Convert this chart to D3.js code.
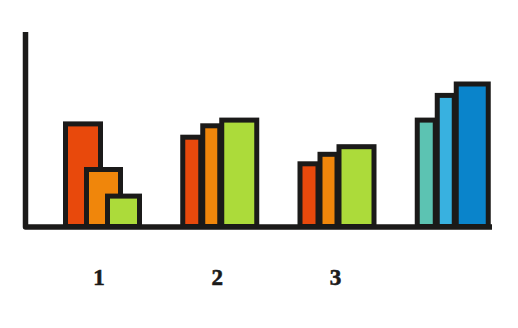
<!DOCTYPE html>
<html>
<head>
<meta charset="utf-8">
<script src="https://cdn.jsdelivr.net/npm/d3@7"></script>
<style>
  body { margin: 0; background: #fff; }
  svg { display: block; }
</style>
</head>
<body>
<div id="chart"></div>
<script>
// data
const categories = ["1", "2", "3", ""];
const seriesA = [54, 47, 33, 56];
const seriesB = [30, 53, 38, 69];
const seriesC = [16, 56, 42, 75];

// colours per group, per series
const groupColors = [
  ["#e8490c", "#f0860b", "#acdb3a"],
  ["#e8490c", "#f0860b", "#acdb3a"],
  ["#e8490c", "#f0860b", "#acdb3a"],
  ["#5cc3b2", "#38b1e0", "#0a84cb"]
];
// bar offset / width inside each group (px)
const slots = [
  [[0, 40], [21, 39], [42, 37]],
  [[0, 23], [20, 22], [39, 40]],
  [[0, 23], [20, 22], [39, 40]],
  [[0, 23], [20, 22], [39, 37]]
];

const width = 518, height = 328;
const sw = 5, ink = "#1b1a19";

const svg = d3.select("#chart")
  .append("svg")
  .attr("width", width)
  .attr("height", height);

const x = d3.scaleBand()
  .domain(categories)
  .range([63, 532]);

const y = d3.scaleLinear()
  .domain([0, 100])
  .range([224, 34]);

const bars = [];
categories.forEach(function(c, i) {
  [seriesA, seriesB, seriesC].forEach(function(s, j) {
    bars.push({cat: c, value: s[i], color: groupColors[i][j], dx: slots[i][j][0], w: slots[i][j][1]});
  });
});

svg.append("g")
  .selectAll("rect")
  .data(bars)
  .join("rect")
  .attr("x", d => x(d.cat) + d.dx + sw / 2)
  .attr("y", d => y(d.value) + sw / 2)
  .attr("width", d => d.w - sw)
  .attr("height", d => y(0) - y(d.value))
  .attr("fill", d => d.color)
  .attr("stroke", ink)
  .attr("stroke-width", sw);

// axes
svg.append("path")
  .attr("d", `M25.5,${y(100) - 2}V227H492`)
  .attr("fill", "none")
  .attr("stroke", ink)
  .attr("stroke-width", 5.5)
  .attr("stroke-linejoin", "round");

// group labels
svg.append("g")
  .selectAll("text")
  .data(categories)
  .join("text")
  .attr("x", (d, i) => x(d) + 36 + i)
  .attr("y", 285)
  .attr("text-anchor", "middle")
  .attr("font-family", "Liberation Serif, serif")
  .attr("font-weight", "bold")
  .attr("font-size", 23)
  .attr("fill", ink)
  .attr("stroke", ink)
  .attr("stroke-width", 0.6)
  .text(d => d);
</script>
</body>
</html>
